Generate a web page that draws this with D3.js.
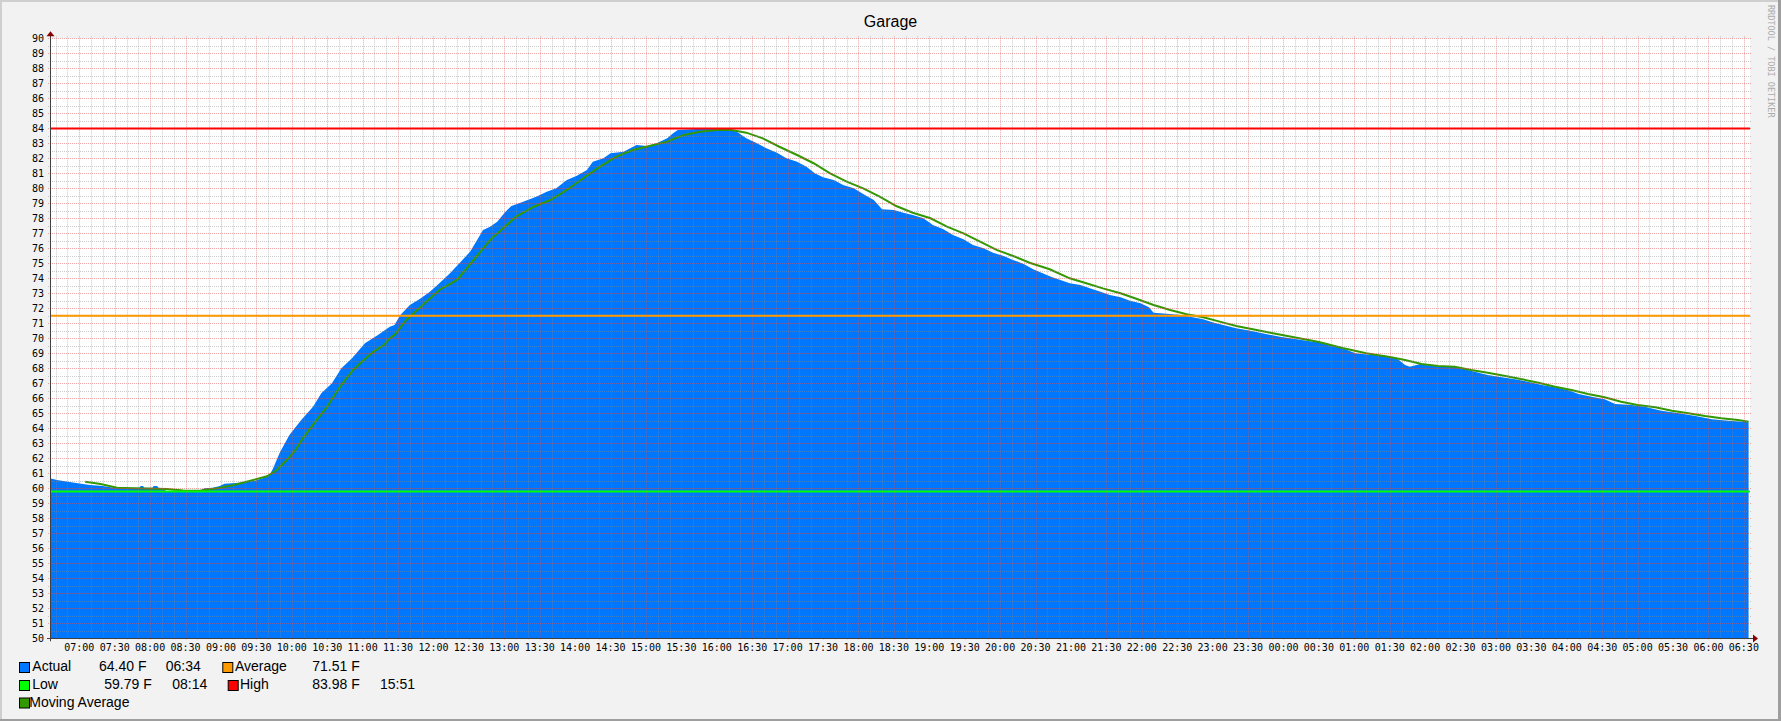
<!DOCTYPE html>
<html><head><meta charset="utf-8">
<script src="https://cdn.jsdelivr.net/npm/d3@7"></script>
<style>body{margin:0;background:#f2f2f2}svg{display:block}</style>
</head><body>
<svg id="c" width="1781" height="721"></svg>
<script>
// ---------------- data ----------------
const title = "Garage";
const actualTimes = ["06:35","06:41","06:56","07:09","07:20","07:29","07:51","07:52","07:54","07:55","08:02","08:03","08:06","08:07","08:11","08:14","08:20","08:42","08:46","08:53","08:59","09:03","09:16","09:29","09:35","09:39","09:42","09:44","09:50","09:58","10:08","10:18","10:25","10:34","10:42","10:51","11:02","11:13","11:23","11:27","11:32","11:40","11:49","11:57","12:05","12:14","12:22","12:31","12:37","12:42","12:48","12:54","13:01","13:06","13:16","13:27","13:36","13:44","13:53","14:01","14:10","14:15","14:24","14:30","14:41","14:52","15:01","15:09","15:18","15:23","15:27","15:51","16:11","16:17","16:25","16:34","16:42","16:51","16:59","17:08","17:16","17:23","17:30","17:39","17:47","17:56","18:04","18:13","18:20","18:30","18:38","18:46","18:55","19:03","19:12","19:20","19:29","19:37","19:46","19:54","20:03","20:11","20:20","20:28","20:43","20:59","21:08","21:16","21:25","21:33","21:42","21:50","21:59","22:06","22:10","22:24","22:33","22:41","22:52","23:01","23:09","23:20","23:32","23:44","23:57","00:10","00:22","00:35","00:48","01:01","01:13","01:26","01:37","01:43","01:47","01:56","02:06","02:25","02:34","02:42","02:53","03:05","03:16","03:27","03:39","03:50","04:01","04:10","04:21","04:32","04:41","04:55","05:06","05:20","05:35","05:49","06:03","06:17","06:34"];
const actualValues = [60.67,60.55,60.37,60.22,60.15,60.04,60.04,60.15,60.15,60.04,60.04,60.15,60.15,60.04,60.0,59.79,59.84,59.84,60.0,60.04,60.15,60.3,60.37,60.5,60.67,60.77,61.0,61.3,62.4,63.55,64.55,65.44,66.33,67.0,68.0,68.67,69.67,70.22,70.77,70.89,71.55,72.22,72.65,73.11,73.67,74.33,75.0,75.77,76.55,77.22,77.44,77.77,78.44,78.82,79.11,79.44,79.77,80.0,80.55,80.82,81.22,81.77,82.0,82.33,82.44,82.89,82.82,83.0,83.33,83.67,83.89,83.98,83.89,83.77,83.33,83.0,82.67,82.37,82.0,81.77,81.44,81.0,80.73,80.55,80.22,80.0,79.62,79.22,78.6,78.55,78.37,78.22,78.0,77.55,77.27,76.89,76.6,76.22,76.0,75.71,75.49,75.22,74.95,74.6,74.1,73.67,73.55,73.33,73.11,72.89,72.73,72.51,72.33,72.07,71.71,71.62,71.55,71.44,71.27,71.04,70.89,70.67,70.5,70.3,70.1,69.95,69.8,69.7,69.4,69.0,68.9,68.85,68.6,68.22,68.11,68.29,68.15,68.11,67.93,67.77,67.55,67.4,67.27,67.11,66.89,66.73,66.55,66.29,66.11,65.93,65.62,65.55,65.44,65.17,65.0,64.82,64.6,64.51,64.40];
const maTimes = ["07:05","07:18","07:32","07:45","08:14","08:28","08:42","08:57","09:10","09:25","09:39","09:47","09:56","10:03","10:10","10:21","10:30","10:38","10:44","10:52","11:01","11:09","11:18","11:23","11:27","11:37","11:51","12:05","12:20","12:34","12:48","12:59","13:10","13:25","13:39","13:53","14:07","14:21","14:35","14:49","15:03","15:18","15:32","15:46","16:00","16:11","16:25","16:39","16:53","17:08","17:22","17:36","17:50","18:04","18:18","18:32","18:46","19:01","19:15","19:29","19:43","19:57","20:11","20:25","20:42","20:59","21:13","21:27","21:42","21:56","22:10","22:24","22:38","22:52","23:06","23:20","23:34","23:50","00:10","00:30","00:50","01:10","01:30","01:43","01:57","02:11","02:25","02:39","02:53","03:08","03:22","03:36","03:50","04:04","04:18","04:32","04:46","05:00","05:15","05:29","05:43","05:57","06:11","06:25","06:34"];
const maValues = [60.44,60.29,60.04,60.0,59.96,59.86,59.84,60.0,60.2,60.5,60.8,61.2,61.9,62.55,63.4,64.55,65.44,66.44,67.1,67.89,68.55,69.1,69.55,70.0,70.22,71.22,72.22,73.22,73.89,75.22,76.55,77.33,78.11,78.77,79.22,79.89,80.67,81.44,82.11,82.55,82.82,83.11,83.55,83.77,83.89,83.9,83.71,83.33,82.77,82.22,81.67,81.0,80.44,80.0,79.44,78.82,78.37,78.0,77.44,77.0,76.44,75.89,75.49,75.04,74.6,74.0,73.67,73.33,73.0,72.62,72.22,71.89,71.6,71.4,71.11,70.82,70.6,70.35,70.05,69.75,69.35,69.0,68.75,68.55,68.29,68.15,68.11,67.89,67.71,67.49,67.27,67.04,66.77,66.55,66.29,66.07,65.77,65.55,65.4,65.17,65.0,64.82,64.67,64.55,64.44];
const averageValue = 71.51;
const lowValue = 59.79;
const highValue = 83.98;
const yDomain = [50, 90];
const legendNames = ["Actual","Average","Low","High","Moving Average"];
const legendColors = ["#0077ff","#ff9900","#00ff00","#ff0000","#339900"];
const legendValues = ["64.40 F","71.51 F","59.79 F","83.98 F",""];
const legendTimes = ["06:34","","08:14","15:51",""];
const watermark = "RRDTOOL / TOBI OETIKER";

// ---------------- layout ----------------
const W = 1781, H = 721;
const L = 50, R = 1750, T = 38.3, B = 638.3;
const START = new Date(2024,0,1,6,35,12);
const END = new Date(START.getTime() + 86400000);
function toDate(s){
  const [h,m] = s.split(":").map(Number);
  const day = (h*60+m) >= 6*60+35 ? 0 : 1;
  return new Date(2024,0,1+day,h,m);
}
const x = d3.scaleTime().domain([START, END]).range([L, R]);
const y = d3.scaleLinear().domain(yDomain).range([B, T]);
const crisp = v => Math.round(v) + 0.5;

const svg = d3.select("#c");
svg.append("rect").attr("width",W).attr("height",H).attr("fill","#f2f2f2");
svg.append("rect").attr("x",0).attr("y",0).attr("width",W).attr("height",2).attr("fill","#cfcfcf");
svg.append("rect").attr("x",0).attr("y",0).attr("width",2).attr("height",H).attr("fill","#cfcfcf");
svg.append("rect").attr("x",0).attr("y",H-2).attr("width",W).attr("height",2).attr("fill","#9e9e9e");
svg.append("rect").attr("x",W-3).attr("y",0).attr("width",3).attr("height",H).attr("fill","#9e9e9e");

// canvas
svg.append("rect").attr("x",L).attr("y",Math.round(T)).attr("width",R-L).attr("height",Math.round(B)-Math.round(T)).attr("fill","#ffffff");

svg.append("defs").append("clipPath").attr("id","clip").append("rect")
  .attr("x",L).attr("y",T-3).attr("width",R-L).attr("height",B-T+3);

const actual = actualTimes.map((t,i)=>({t:toDate(t), v:actualValues[i]}));
const ma = maTimes.map((t,i)=>({t:toDate(t), v:maValues[i]}));

const gPlot = svg.append("g").attr("clip-path","url(#clip)");
gPlot.append("path").datum(actual)
  .attr("d", d3.area().x(d=>x(d.t)).y0(y(yDomain[0])).y1(d=>y(d.v)))
  .attr("fill", legendColors[0]);

// grid
const gGrid = svg.append("g");
const minorX = d3.timeMinute.every(10).range(START, END);
const majorX = d3.timeMinute.every(30).range(START, END);
const minorY = d3.range(yDomain[0], yDomain[1]+0.001, 0.5);
const majorY = d3.range(yDomain[0], yDomain[1]+0.001, 1);
const minorCol = "rgba(140,140,140,0.45)", majorCol = "rgba(222,80,80,0.5)";
gGrid.selectAll(".vx").data(minorX).join("line")
  .attr("x1",d=>crisp(x(d))).attr("x2",d=>crisp(x(d)))
  .attr("y1",T-2).attr("y2",B+2)
  .attr("stroke",d=>d.getMinutes()%30===0?majorCol:minorCol).attr("stroke-dasharray","1,1");
gGrid.selectAll(".hy").data(minorY).join("line")
  .attr("x1",L-2).attr("x2",R+2)
  .attr("y1",d=>crisp(y(d))).attr("y2",d=>crisp(y(d)))
  .attr("stroke",d=>d%1===0?majorCol:minorCol).attr("stroke-dasharray","1,1");

// lines
function hline(v,color){
  svg.append("line").attr("x1",L).attr("x2",R).attr("y1",y(v)).attr("y2",y(v))
    .attr("stroke",color).attr("stroke-width",2);
}
hline(highValue, legendColors[3]);
hline(averageValue, legendColors[1]);
hline(lowValue, legendColors[2]);
gPlot.append("path").datum(ma)
  .attr("d", d3.line().x(d=>x(d.t)).y(d=>y(d.v)))
  .attr("fill","none").attr("stroke",legendColors[4]).attr("stroke-width",2);

// axes
const axisCol = "#404040";
svg.append("line").attr("x1",L+0.5).attr("x2",L+0.5).attr("y1",T-4).attr("y2",B+3).attr("stroke",axisCol);
svg.append("line").attr("x1",L-3).attr("x2",R+4).attr("y1",crisp(B)).attr("y2",crisp(B)).attr("stroke",axisCol);
svg.append("path").attr("d",`M${L-3.5},${T-2}L${L+4.5},${T-2}L${L+0.5},${T-7}Z`).attr("fill","#8b0000");
svg.append("path").attr("d",`M${R+3},${crisp(B)-4}L${R+3},${crisp(B)+4}L${R+8},${crisp(B)}Z`).attr("fill","#8b0000");

// y labels
svg.append("g").selectAll("text").data(majorY).join("text")
  .attr("x",44).attr("y",d=>y(d)+3.5).attr("text-anchor","end")
  .attr("font-family","DejaVu Sans Mono").attr("font-size",10).attr("fill","#000")
  .text(d=>d);
// x labels
const fmt = d3.timeFormat("%H:%M");
svg.append("g").selectAll("text").data(majorX).join("text")
  .attr("x",d=>x(d)).attr("y",651).attr("text-anchor","middle")
  .attr("font-family","DejaVu Sans Mono").attr("font-size",10).attr("fill","#000")
  .text(d=>fmt(d));

// title
svg.append("text").attr("x",890.5).attr("y",27).attr("text-anchor","middle")
  .attr("font-family","Liberation Sans").attr("font-size",16).attr("fill","#000").text(title);

// watermark
svg.append("text").attr("transform","translate(1768,5) rotate(90)")
  .attr("font-family","DejaVu Sans Mono").attr("font-size",8.5).attr("fill","#aaaaaa")
  .text(watermark);

// legend
const legPos = [
  {bx:19, by:662, tx:32.3, ty:671, vx:99, tmx:165.7},
  {bx:222.3, by:662, tx:235, ty:671, vx:312.3, tmx:380},
  {bx:19, by:680, tx:32.3, ty:689, vx:104.3, tmx:172.3},
  {bx:227.7, by:680, tx:240, ty:689, vx:312.3, tmx:380},
  {bx:19, by:697.5, tx:29.3, ty:706.5, vx:0, tmx:0}
];
const gl = svg.append("g").attr("font-family","Liberation Sans").attr("font-size",14).attr("fill","#000");
legendNames.forEach((n,i)=>{
  const p = legPos[i];
  gl.append("rect").attr("x",p.bx+0.5).attr("y",p.by+0.5).attr("width",10).attr("height",10)
    .attr("fill",legendColors[i]).attr("stroke","#000").attr("stroke-width",1);
  gl.append("text").attr("x",p.tx).attr("y",p.ty).text(n);
  if (legendValues[i]) gl.append("text").attr("x",p.vx).attr("y",p.ty).text(legendValues[i]);
  if (legendTimes[i]) gl.append("text").attr("x",p.tmx).attr("y",p.ty).text(legendTimes[i]);
});
</script>
</body></html>
